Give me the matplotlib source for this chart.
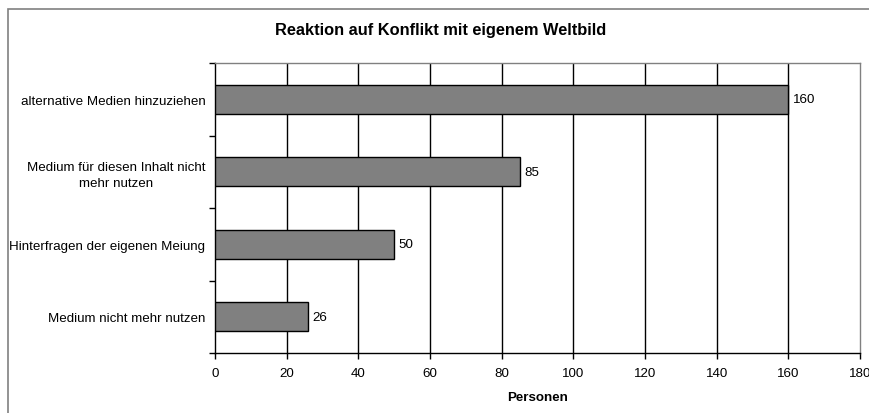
import matplotlib
matplotlib.use("Agg")
import matplotlib.pyplot as plt
from matplotlib.patches import Rectangle

categories = [
    "alternative Medien hinzuziehen",
    "Medium für diesen Inhalt nicht\nmehr nutzen",
    "Hinterfragen der eigenen Meiung",
    "Medium nicht mehr nutzen",
]
values = [160, 85, 50, 26]
x_ticks = [0, 20, 40, 60, 80, 100, 120, 140, 160, 180]

plt.rcParams['font.family'] = ['Liberation Sans', 'DejaVu Sans']

W, H = 870, 414
fig = plt.figure(figsize=(W / 100, H / 100), dpi=100)
fig.patch.set_facecolor('white')

# outer chart border
fig.add_artist(Rectangle((8 / W, -0.05), 1.2, 1 - 10 / H + 0.05,
                         transform=fig.transFigure, fill=False,
                         edgecolor='#808080', linewidth=1.2))

ax = fig.add_axes([215 / W, 1 - 354 / H, (860 - 215) / W, (354 - 64) / H])

FS = 9.6
n = len(categories)
ypos = [n - 1 - i for i in range(n)]
ax.barh(ypos, values, height=0.4, color='#808080', edgecolor='black',
        linewidth=1.0, zorder=3)
for y, v in zip(ypos, values):
    ax.text(v + 1.2, y, str(v), va='center', ha='left', fontsize=FS, zorder=4)

ax.set_xlim(0, 180)
ax.set_ylim(-0.5, n - 0.5)
ax.set_xticks(x_ticks)
ax.set_xticklabels([str(t) for t in x_ticks], fontsize=FS)
ax.set_yticks(ypos)
ax.set_yticklabels(categories, fontsize=FS, ha='right', multialignment='center',
                   linespacing=1.45)
ax.tick_params(axis='y', which='major', length=0, pad=7)
ax.set_yticks([i - 0.5 for i in range(n + 1)], minor=True)
ax.tick_params(axis='y', which='minor', length=4, width=1, color='black', direction='out')
ax.tick_params(axis='x', length=4, width=1, color='black', direction='out', pad=6)

for t in x_ticks[1:-1]:
    ax.axvline(t, color='black', linewidth=1.0, zorder=1)

for side in ['top', 'right']:
    ax.spines[side].set_color('#808080')
    ax.spines[side].set_linewidth(1.0)
for side in ['left', 'bottom']:
    ax.spines[side].set_color('black')
    ax.spines[side].set_linewidth(1.0)

ax.set_xlabel('Personen', fontsize=FS, fontweight='bold', labelpad=9)

fig.text(441 / W, 1 - 30 / H, 'Reaktion auf Konflikt mit eigenem Weltbild',
         ha='center', va='center', fontsize=11.8, fontweight='bold')

fig.savefig('out.png', dpi=100, facecolor='white')
